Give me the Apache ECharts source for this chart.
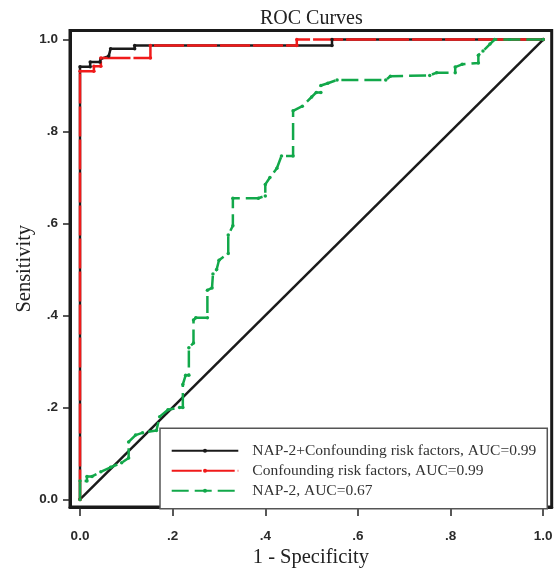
<!DOCTYPE html>
<html>
<head>
<meta charset="utf-8">
<script src="https://cdn.jsdelivr.net/npm/echarts@6/dist/echarts.min.js"></script>
<style>html,body{margin:0;padding:0;background:#fff;}#c{width:558px;height:573px;}</style>
</head>
<body>
<div id="c"></div>
<script>
// Tick positions and labels (both axes)
const tickValues = [0, 0.2, 0.4, 0.6, 0.8, 1];
const tickLabels = ['0.0', '.2', '.4', '.6', '.8', '1.0'];

const seriesNames = [
  'NAP-2+Confounding risk factors, AUC=0.99',
  'Confounding risk factors, AUC=0.99',
  'NAP-2, AUC=0.67'
];

// NAP-2 + confounding risk factors (1 - specificity, sensitivity)
const combinedX = [0, 0, 0.022, 0.022, 0.043, 0.045, 0.062, 0.066, 0.118, 0.118, 0.544, 0.544, 1];
const combinedY = [0, 0.941, 0.941, 0.951, 0.951, 0.958, 0.964, 0.98, 0.98, 0.987, 0.987, 1, 1];

// Confounding risk factors
const confX = [0, 0, 0.03, 0.03, 0.045, 0.045, 0.152, 0.152, 0.468, 0.468, 1];
const confY = [0, 0.931, 0.931, 0.942, 0.942, 0.96, 0.96, 0.987, 0.987, 1, 1];

// NAP-2 alone
const napX = [0, 0, 0.015, 0.015, 0.026, 0.045, 0.066, 0.09, 0.105, 0.105, 0.12, 0.135, 0.165, 0.172, 0.19, 0.215, 0.222, 0.222, 0.228, 0.235, 0.235, 0.245, 0.245, 0.25, 0.275, 0.275, 0.285, 0.287, 0.295, 0.30, 0.32, 0.32, 0.33, 0.33, 0.385, 0.40, 0.40, 0.41, 0.425, 0.435, 0.46, 0.46, 0.48, 0.50, 0.51, 0.52, 0.52, 0.535, 0.555, 0.66, 0.67, 0.755, 0.77, 0.81, 0.81, 0.825, 0.86, 0.86, 0.87, 0.885, 0.895, 1];
const napY = [0, 0.04, 0.04, 0.05, 0.05, 0.06, 0.07, 0.08, 0.09, 0.125, 0.14, 0.145, 0.15, 0.18, 0.195, 0.2, 0.2, 0.25, 0.27, 0.27, 0.33, 0.34, 0.39, 0.395, 0.395, 0.455, 0.46, 0.49, 0.5, 0.52, 0.535, 0.575, 0.595, 0.655, 0.655, 0.66, 0.685, 0.70, 0.72, 0.747, 0.747, 0.845, 0.855, 0.875, 0.885, 0.885, 0.90, 0.905, 0.912, 0.912, 0.92, 0.922, 0.928, 0.928, 0.94, 0.946, 0.949, 0.966, 0.975, 0.99, 1, 1];

// Reference line
const diagX = [0, 1];
const diagY = [0, 1];

const zip = (xs, ys) => xs.map((x, i) => [x, ys[i]]);
const fmt = v => {
  const i = tickValues.findIndex(t => Math.abs(t - v) < 1e-6);
  return i >= 0 ? tickLabels[i] : '';
};

const serif = 'Liberation Serif';
const sans = 'Liberation Sans';
const axisMin = -0.0216, axisMaxX = 1.0183;
const axisMinY = -0.0164, axisMaxY = 1.0196;

const chart = echarts.init(document.getElementById('c'), null, {renderer: 'canvas'});
chart.setOption({
  animation: false,
  backgroundColor: '#fff',
  title: {
    text: 'ROC Curves',
    left: 260, top: 8.5, padding: 0,
    textStyle: {fontFamily: serif, fontSize: 20, fontWeight: 'normal', color: '#222'}
  },
  grid: {
    left: 70, right: 6.3, top: 30.5, bottom: 62.3,
    show: true, borderColor: '#1a1a1a', borderWidth: 3, backgroundColor: '#fff'
  },
  legend: {
    data: seriesNames,
    orient: 'vertical',
    left: 160, top: 428.3,
    padding: [14.5, 11, 10, 10.7],
    itemWidth: 66.6, itemHeight: 5, itemGap: 4,
    backgroundColor: '#fff',
    borderColor: '#555', borderWidth: 1.5, borderRadius: 0,
    textStyle: {fontFamily: serif, fontSize: 15.5, color: '#333', padding: [0, 0, 0, 9]}
  },
  xAxis: {
    type: 'value', min: axisMin, max: axisMaxX,
    name: '1 - Specificity', nameLocation: 'middle', nameGap: 40, nameMoveOverlap: false,
    nameTextStyle: {fontFamily: serif, fontSize: 20.5, color: '#222'},
    axisLine: {show: true, onZero: false, lineStyle: {color: '#1a1a1a', width: 3}},
    axisTick: {show: true, length: 9, customValues: tickValues, lineStyle: {color: '#222', width: 1.5}},
    axisLabel: {customValues: tickValues, formatter: fmt, margin: 22,
      fontFamily: sans, fontWeight: 'bold', fontSize: 13.5, color: '#2a2a2a'},
    splitLine: {show: false}
  },
  yAxis: {
    type: 'value', min: axisMinY, max: axisMaxY,
    name: 'Sensitivity', nameLocation: 'middle', nameGap: 34.5, nameRotate: 90, nameMoveOverlap: false,
    nameTextStyle: {fontFamily: serif, fontSize: 20.5, color: '#222'},
    axisLine: {show: true, onZero: false, lineStyle: {color: '#1a1a1a', width: 3}},
    axisTick: {show: true, length: 7, customValues: tickValues, lineStyle: {color: '#222', width: 1.5}},
    axisLabel: {customValues: tickValues, formatter: fmt, margin: 12,
      fontFamily: sans, fontWeight: 'bold', fontSize: 13.5, color: '#2a2a2a'},
    splitLine: {show: false}
  },
  series: [
    {
      name: 'diagonal', type: 'line', data: zip(diagX, diagY),
      symbol: 'none', silent: true,
      lineStyle: {color: '#1a1a1a', width: 2.5}
    },
    {
      name: seriesNames[0], type: 'line', data: zip(combinedX, combinedY),
      symbol: 'circle', symbolSize: 3.5, showSymbol: true,
      itemStyle: {color: '#1a1a1a'},
      lineStyle: {color: '#1a1a1a', width: 2.5}
    },
    {
      name: seriesNames[1], type: 'line', data: zip(confX, confY),
      symbol: 'circle', symbolSize: 3.5, showSymbol: true,
      itemStyle: {color: '#f01a1a'},
      lineStyle: {color: '#f01a1a', width: 2.5, type: [30, 3]}
    },
    {
      name: seriesNames[2], type: 'line', data: zip(napX, napY),
      symbol: 'circle', symbolSize: 3.5, showSymbol: true,
      itemStyle: {color: '#12a84a'},
      lineStyle: {color: '#12a84a', width: 2.5, type: [17, 6]}
    }
  ]
});
</script>
</body>
</html>
